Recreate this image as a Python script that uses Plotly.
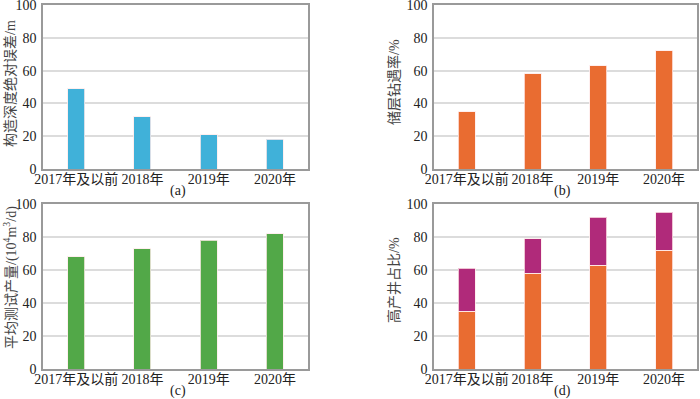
import plotly.graph_objects as go

categories = ["2017年及以前", "2018年", "2019年", "2020年"]
depth_error = [49, 32, 21, 18]          # (a) 构造深度绝对误差/m
drill_rate = [35, 58, 63, 72]           # (b) 储层钻遇率/%
avg_test_yield = [68, 73, 78, 82]       # (c) 平均测试产量
high_yield_base = [35, 58, 63, 72]      # (d) orange part
high_yield_total = [61, 79, 92, 95]     # (d) total height
high_yield_extra = [t - b for t, b in zip(high_yield_total, high_yield_base)]

y_ticks = [0, 20, 40, 60, 80, 100]

W, H = 700, 399
def px_x(x): return x / W
def px_y(y): return 1 - y / H

BLUE = "#40B1D9"
ORANGE = "#E96C31"
GREEN = "#52A848"
MAGENTA = "#B02A7A"

fig = go.Figure()

panels = [
    ("x", "y", 43, 308, 5, 169),
    ("x2", "y2", 434, 697, 5, 169),
    ("x3", "y3", 43, 308, 204, 369),
    ("x4", "y4", 434, 697, 204, 369),
]

def add_bar(vals, color, xa, ya):
    fig.add_trace(go.Bar(
        x=categories, y=vals, xaxis=xa, yaxis=ya,
        marker=dict(color=color, line=dict(color="rgba(255,235,235,0.8)", width=1)),
        showlegend=False,
    ))

add_bar(depth_error, BLUE, "x", "y")
add_bar(drill_rate, ORANGE, "x2", "y2")
add_bar(avg_test_yield, GREEN, "x3", "y3")
add_bar(high_yield_base, ORANGE, "x4", "y4")
add_bar(high_yield_extra, MAGENTA, "x4", "y4")

font_main = "Liberation Serif, Noto Sans CJK SC"
layout = dict(
    width=W, height=H,
    margin=dict(l=0, r=0, t=0, b=0, autoexpand=False),
    paper_bgcolor="white", plot_bgcolor="white",
    barmode="stack", bargap=0.74,
    font=dict(family=font_main, size=14, color="#222222"),
)

for i, (xa, ya, x0, x1, yt, yb) in enumerate(panels):
    xk = "xaxis" + ("" if i == 0 else str(i + 1))
    yk = "yaxis" + ("" if i == 0 else str(i + 1))
    layout[xk] = dict(
        domain=[px_x(x0), px_x(x1)], anchor=ya, automargin=False,
        showline=True, linecolor="#9a9a9a", linewidth=1.5, mirror=True,
        showgrid=False, ticks="", tickangle=0, ticklabelstandoff=-4,
        ticklabeloverflow="allow",
        tickfont=dict(size=14, color="#222222", family=font_main),
        categoryorder="array", categoryarray=categories,
    )
    layout[yk] = dict(
        domain=[px_y(yb), px_y(yt)], anchor=xa, automargin=False,
        range=[0, 100], tickvals=y_ticks, ticktext=[str(v) for v in y_ticks],
        showline=True, linecolor="#9a9a9a", linewidth=1.5, mirror=True,
        showgrid=True, gridcolor="#dcdcdc", gridwidth=1.5,
        zeroline=False, ticks="", ticklabelstandoff=2,
        ticklabeloverflow="allow",
        tickfont=dict(size=14, color="#222222", family=font_main),
    )

fig.update_layout(**layout)

titles = [
    ("构造深度绝对误差/m", 10, 84),
    ("储层钻遇率/%", 394, 82),
    ("平均测试产量/(10<sup>4</sup>m<sup>3</sup>/d)", 10, 278),
    ("高产井占比/%", 394, 280),
]
for text, x, y in titles:
    fig.add_annotation(text=text, x=px_x(x), y=px_y(y), xref="paper", yref="paper",
                       textangle=-90, showarrow=False, xanchor="center", yanchor="middle",
                       font=dict(size=14, color="#444444", family=font_main))

labels = [("(a)", 178, 191), ("(b)", 562, 191), ("(c)", 178, 391), ("(d)", 562, 391)]
for text, x, y in labels:
    fig.add_annotation(text=text, x=px_x(x), y=px_y(y), xref="paper", yref="paper",
                       showarrow=False, xanchor="center", yanchor="middle",
                       font=dict(size=14, color="#222222", family=font_main))

fig.write_html("out.html", config={"displayModeBar": False},
               post_script="document.body.style.margin='0';")
